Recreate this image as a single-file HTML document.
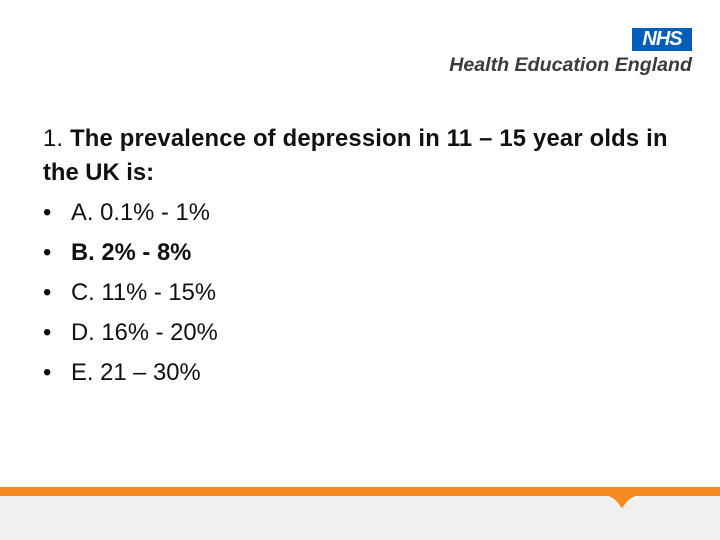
<!DOCTYPE html>
<html><head><meta charset="utf-8"><style>
body{margin:0;width:720px;height:540px;position:relative;background:#fff;overflow:hidden;font-family:"Liberation Sans",sans-serif;}
.t,.b{position:absolute;left:43px;font-size:23.8px;color:#111;white-space:nowrap;line-height:28px}
.b span.dot{display:inline-block;width:28px}
</style></head><body>
<div style="position:absolute;left:632px;top:28px;width:60px;height:23px;background:#005eb8;color:#fff;font:italic bold 20px 'Liberation Sans',sans-serif;text-align:center;line-height:23px;letter-spacing:-1px">NHS</div>
<div style="position:absolute;left:440px;top:54px;width:252px;font:italic bold 19.6px 'Liberation Sans',sans-serif;color:#3b3b3b;white-space:nowrap;line-height:22px;text-align:right">Health Education England</div>
<div class="t" style="top:125px;letter-spacing:0.2px"><span style="font-weight:normal">1.</span> <b>The prevalence of depression in 11 – 15 year olds in</b></div>
<div class="t" style="top:159px"><b>the UK is:</b></div>
<div class="b" style="top:199px"><span class="dot">•</span>A. 0.1% - 1%</div>
<div class="b" style="top:239px;font-weight:bold"><span class="dot" style="font-weight:normal">•</span>B. 2% - 8%</div>
<div class="b" style="top:279px"><span class="dot">•</span>C. 11% - 15%</div>
<div class="b" style="top:319px"><span class="dot">•</span>D. 16% - 20%</div>
<div class="b" style="top:359px"><span class="dot">•</span>E. 21 – 30%</div>
<div style="position:absolute;left:0;top:494px;width:720px;height:46px;background:#f0f0f0"></div>
<div style="position:absolute;left:0;top:487px;width:720px;height:9px;background:#f68a1e"></div>
<svg style="position:absolute;left:605px;top:495px" width="34" height="14"><path d="M0,0 L34,0 Q24,2 18,12 L17,13 L16,12 Q10,2 0,0Z" fill="#f68a1e"/></svg>
</body></html>
